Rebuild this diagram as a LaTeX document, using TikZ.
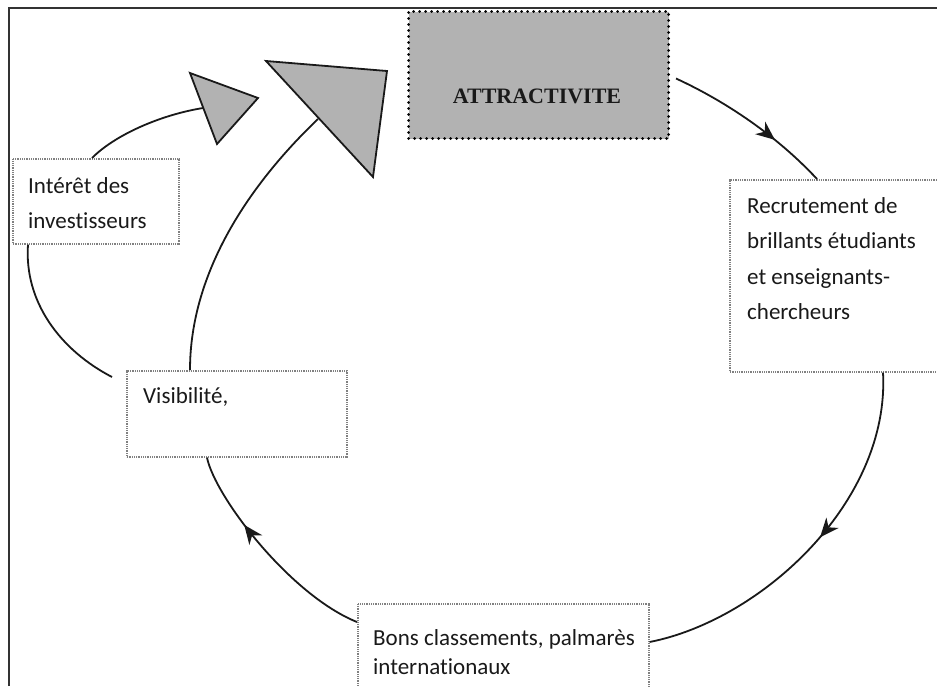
\documentclass[tikz,border=0pt]{standalone}
\usepackage{fontspec}
\setmainfont{Carlito}[Ligatures=NoCommon]
\newfontfamily\serifbold{Liberation Serif}
\usetikzlibrary{arrows.meta,decorations.markings,calc}
\begin{document}
\begin{tikzpicture}[x=1pt,y=-1pt,
  outerframe/.style={line width=2pt, draw=black!80},
  tbox/.style={draw=black!50, line width=1.6pt, dash pattern=on 1pt off 0.8pt, anchor=north west, inner sep=0pt},
  attrbox/.style={fill=black!30, draw=black, line width=3pt, line cap=round, dash pattern=on 0pt off 6pt, anchor=north west, inner sep=0pt},
  lbl/.style={font=\fontsize{23}{35.5}\selectfont, align=left, anchor=base west, inner sep=0pt, text=black!90},
  conn/.style={line width=1.8pt, draw=black!90},
  arrowmid/.style={postaction={decorate}, decoration={markings, mark=at position #1 with {\arrow{Stealth[length=19pt,width=16pt,inset=6pt]}}}},
  tri/.style={fill=black!30, draw=black!90, line width=1.8pt, line join=miter}
]
\useasboundingbox (0,0) rectangle (937,686);
\clip (0,0) rectangle (937,686);
% frame
\draw[outerframe] (9,686) -- (9,8) -- (940,8);
% boxes
\node[attrbox, minimum width=260pt, minimum height=127pt] (attr) at (407,10) {};
\node[font=\serifbold\bfseries\fontsize{22}{24}\selectfont, anchor=base, inner sep=0pt, text=black!90] (attrT) at (537,103) {ATTRACTIVITE};
\node[tbox, minimum width=166pt, minimum height=85pt] (interet) at (12,158) {};
\node[tbox, minimum width=230pt, minimum height=192pt] (recr) at (729,179) {};
\node[tbox, minimum width=220pt, minimum height=86pt] (vis) at (126,370) {};
\node[tbox, minimum width=291pt, minimum height=100pt] (bons) at (357,603) {};
% texts (anchor = baseline of the last line)
\node[lbl] (interetT) at (28,228.5) {Intérêt des\\investisseurs};
\node[lbl] (recrT) at (747,319.5) {Recrutement de\\brillants étudiants\\et enseignants-\\chercheurs};
\node[lbl] (visT) at (143,403) {Visibilité,};
\node[lbl, font=\fontsize{23}{29.5}\selectfont] (bonsT) at (373,674.5) {Bons classements, palmarès\\internationaux};
% triangles
\coordinate (bt1) at (266,61);
\coordinate (bt2) at (387,71);
\coordinate (bt3) at (373,177);
\coordinate (st1) at (190,73);
\coordinate (st2) at (258,98);
\coordinate (st3) at (217,144);
\coordinate (bigin) at (318,119);
\coordinate (smallin) at (203,108);
% connectors
\draw[conn, arrowmid=0.67] ($(attr.east)+(6,3.5)$) .. controls +(50,23) and +(-40,-43) .. ($(recr.north west)+(88,0)$);
\draw[conn, arrowmid=0.47] ($(recr.south west)+(154,0)$) .. controls +(7,129) and +(112,-22) .. ($(bons.north east)+(0,39)$);
\draw[conn, arrowmid=0.66] ($(bons.north west)+(0,19)$) .. controls +(-67,-27) and +(8,39) .. ($(vis.south west)+(81,0)$);
\draw[conn] ($(vis.north west)+(64,0)$) .. controls +(0,-100) and +(-66,63) .. (bigin);
\draw[conn] ($(interet.south west)+(16,0)$) .. controls +(-4,57) and +(-52,-27) .. ($(vis.north west)+(-14,7)$);
\draw[conn] ($(interet.north west)+(80,0)$) .. controls +(23,-23) and +(-43,7) .. (smallin);
\draw[tri] (bt1) -- (bt2) -- (bt3) -- cycle;
\draw[tri] (st1) -- (st2) -- (st3) -- cycle;
\end{tikzpicture}
\end{document}
